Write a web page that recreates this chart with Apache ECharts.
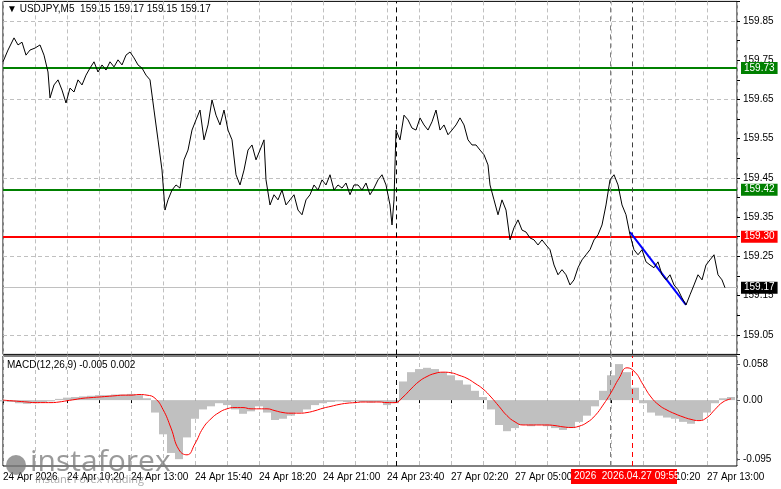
<!DOCTYPE html><html><head><meta charset="utf-8">
<script src="https://cdn.jsdelivr.net/npm/echarts@6/dist/echarts.min.js"></script>
<style>html,body{margin:0;padding:0;background:#fff}#c{width:781px;height:489px}</style></head><body><div id="c"></div>
<script>
const title = '\u25BC USDJPY,M5  159.15 159.17 159.15 159.17';
const macdTitle = 'MACD(12,26,9) -0.005 0.002';
const timeLabels = ['24 Apr 2026','24 Apr 10:20','24 Apr 13:00','24 Apr 15:40','24 Apr 18:20','24 Apr 21:00','24 Apr 23:40','27 Apr 02:20','27 Apr 05:00','27 Apr 07:40','27 Apr 10:20','27 Apr 13:00'];
const price = [[3,159.746],[8,159.776],[14,159.807],[18,159.789],[22,159.796],[26,159.763],[30,159.776],[35,159.781],[40,159.789],[44,159.763],[48,159.720],[50,159.654],[54,159.687],[58,159.700],[62,159.674],[66,159.641],[70,159.679],[74,159.669],[78,159.700],[82,159.687],[86,159.712],[90,159.730],[94,159.746],[98,159.720],[102,159.738],[106,159.725],[110,159.746],[114,159.733],[118,159.751],[122,159.738],[126,159.763],[130,159.771],[134,159.756],[138,159.738],[142,159.730],[146,159.712],[150,159.700],[154,159.623],[158,159.547],[162,159.470],[165,159.368],[168,159.394],[172,159.419],[176,159.432],[180,159.424],[184,159.496],[188,159.521],[192,159.572],[196,159.598],[200,159.623],[204,159.547],[208,159.585],[212,159.649],[216,159.610],[220,159.585],[224,159.623],[228,159.572],[232,159.547],[236,159.458],[240,159.432],[244,159.470],[248,159.521],[252,159.534],[256,159.496],[260,159.521],[264,159.547],[266,159.445],[270,159.381],[274,159.407],[278,159.394],[282,159.419],[286,159.381],[290,159.394],[294,159.407],[298,159.368],[302,159.356],[306,159.394],[310,159.407],[314,159.432],[318,159.419],[322,159.445],[326,159.432],[330,159.458],[334,159.419],[338,159.432],[342,159.424],[346,159.437],[350,159.407],[354,159.432],[358,159.432],[362,159.419],[366,159.437],[370,159.407],[374,159.424],[378,159.445],[382,159.458],[386,159.432],[390,159.381],[392,159.330],[394,159.394],[396,159.572],[400,159.547],[404,159.610],[408,159.598],[412,159.577],[416,159.572],[420,159.603],[424,159.585],[428,159.572],[432,159.593],[436,159.623],[440,159.572],[444,159.585],[448,159.560],[452,159.572],[456,159.585],[460,159.603],[464,159.585],[468,159.547],[472,159.534],[476,159.534],[480,159.521],[484,159.509],[488,159.483],[490,159.432],[494,159.394],[498,159.356],[502,159.394],[506,159.368],[510,159.292],[514,159.323],[518,159.343],[522,159.317],[526,159.312],[530,159.297],[534,159.292],[538,159.279],[542,159.292],[546,159.279],[550,159.267],[554,159.228],[558,159.203],[562,159.216],[566,159.203],[570,159.177],[574,159.190],[578,159.221],[582,159.241],[586,159.254],[590,159.267],[594,159.292],[598,159.305],[602,159.330],[606,159.381],[610,159.445],[614,159.458],[618,159.432],[622,159.381],[626,159.356],[630,159.305],[634,159.267],[638,159.254],[642,159.267],[646,159.236],[650,159.228],[654,159.221],[658,159.236],[662,159.203],[666,159.190],[670,159.203],[674,159.177],[678,159.165],[682,159.144],[686,159.126],[690,159.152],[694,159.177],[698,159.203],[702,159.190],[706,159.228],[710,159.241],[714,159.254],[718,159.203],[722,159.190],[725,159.170]];
const macdHist = [-2,-3,-5,-6,-5,-4,-2,2,4,5,6,7,8,8,9,9,10,8,3,-20,-55,-85,-95,-60,-30,-15,-10,-5,-8,-15,-22,-18,-10,-20,-32,-30,-25,-20,-15,-8,-5,-3,-2,-3,-2,-3,-4,-3,-8,-5,30,45,50,52,50,45,40,32,25,15,5,-15,-40,-50,-45,-40,-42,-40,-42,-45,-48,-45,-35,-25,-10,15,40,58,45,20,-5,-20,-25,-28,-30,-35,-38,-32,-20,-5,3,5];
const macdSignal = [0,-1,-2,-3,-4,-4,-4,-3,-1,1,3,4,5,6,7,8,8,9,8,3,-15,-45,-80,-88,-70,-45,-30,-20,-14,-12,-12,-14,-14,-14,-17,-20,-21,-21,-20,-17,-13,-10,-7,-5,-4,-3,-3,-3,-4,-4,5,18,30,38,43,45,44,40,35,27,18,5,-10,-25,-35,-40,-40,-40,-40,-41,-43,-44,-42,-36,-25,-8,12,35,52,45,25,5,-8,-16,-22,-27,-31,-33,-28,-15,-3,2];
const levels = {green1:159.73, green2:159.42, red:159.30, last:159.17};

const FONT = 'Liberation Sans';
const mx = i => 3 + 8*i;
const histData = macdHist.map((v,i)=>[mx(i), v/1000]);
const sigData = macdSignal.map((v,i)=>[mx(i), v/1000]);
const chart = echarts.init(document.getElementById('c'));
const lbl = (bg,fg)=>({show:true,position:'end',formatter:p=>p.value.toFixed(2),backgroundColor:bg,color:fg,padding:[1,3],fontSize:10,fontFamily:FONT,distance:4});
const hline = (v,c,w,bg,fg)=>({yAxis:v,lineStyle:{color:c,width:w,type:'solid'},label:lbl(bg,fg)});
const vdash = (x,c)=>({xAxis:x,lineStyle:{color:c,width:1,type:[5,4]},label:{show:false}});
chart.setOption({
  animation:false,
  textStyle:{fontFamily:FONT},
  grid:[{left:3,right:44,top:1.4,height:353,show:true,borderColor:'#000',borderWidth:1},
        {left:3,right:44,top:356,height:110,show:true,borderColor:'#000',borderWidth:1}],
  xAxis:[
    {type:'value',gridIndex:0,min:3,max:737,interval:32,axisLabel:{show:false},axisTick:{show:false},axisLine:{show:false},splitLine:{show:true,lineStyle:{color:'#c0c0c0',type:[4,3]}}},
    {type:'value',gridIndex:1,min:3,max:737,interval:32,axisLine:{show:false},axisTick:{show:true,length:3,lineStyle:{color:'#000'}},splitLine:{show:true,lineStyle:{color:'#c0c0c0',type:[4,3]}},
     axisLabel:{show:true,fontSize:10,fontFamily:FONT,color:'#000',align:'left',margin:6,showMaxLabel:false,hideOverlap:false,formatter:v=>{const k=Math.round((v-3)/32);return (k%2===0 && k/2<timeLabels.length && k/2!==9)?timeLabels[k/2]:'';}}}
  ],
  yAxis:[
    {type:'value',gridIndex:0,position:'right',min:159.0,max:159.9,interval:0.05,axisLine:{show:false},axisTick:{show:true,length:3,lineStyle:{color:'#000'}},
     splitLine:{show:true,lineStyle:{color:['rgba(0,0,0,0)','#c0c0c0','rgba(0,0,0,0)','rgba(0,0,0,0)'],type:[4,3]}},
     axisLabel:{fontSize:10,fontFamily:FONT,color:'#000',margin:6,formatter:v=>{const r=Math.round(v*100);return r%10===5?v.toFixed(2):'';}}},
    {type:'value',gridIndex:1,position:'right',min:-0.106,max:0.071,axisLine:{show:false},splitLine:{show:false},
     axisTick:{show:true,length:3,customValues:[0.058,0,-0.095]},
     axisLabel:{fontSize:10,fontFamily:FONT,color:'#000',margin:6,customValues:[0.058,0,-0.095],formatter:v=>v===0?'0.00':v.toFixed(3)}}
  ],
  series:[
    {type:'line',xAxisIndex:0,yAxisIndex:0,data:price,showSymbol:false,lineStyle:{color:'#000',width:1},z:5,
     markLine:{symbol:'none',silent:true,animation:false,data:[
       hline(levels.green1,'#008000',2,'#008000','#fff'),
       hline(levels.green2,'#008000',2,'#008000','#fff'),
       hline(levels.red,'#ff0000',2,'#ff0000','#fff'),
       hline(levels.last,'#c0c0c0',1,'#000','#fff'),
       vdash(396,'#000'), vdash(610,'#808080'), vdash(632,'#404040'),
       [{coord:[630,159.312],lineStyle:{color:'#0000ff',width:2,type:'solid'},label:{show:false}},{coord:[686,159.126]}]
     ]}},
    {type:'bar',xAxisIndex:1,yAxisIndex:1,data:histData,barWidth:8,barGap:'-100%',itemStyle:{color:'#c0c0c0'},
     markLine:{symbol:'none',silent:true,animation:false,data:[vdash(396,'#000'),vdash(610,'#808080'),vdash(632,'#ff0000')]}},
    {type:'line',xAxisIndex:1,yAxisIndex:1,data:sigData,showSymbol:false,smooth:true,lineStyle:{color:'#ff0000',width:1},z:5}
  ],
  graphic:[
    {type:'text',left:7,top:4,z:100,style:{text:title,fontSize:10,fill:'#000',fontFamily:FONT}},
    {type:'text',left:7,top:360,z:100,style:{text:macdTitle,fontSize:10,fill:'#000',fontFamily:FONT}},
    {type:'rect',z:100,shape:{x:571,y:469,width:106,height:15},style:{fill:'#ff0000'}},
    {type:'text',left:574,top:471,z:101,style:{text:'2026  2026.04.27 09:55',fontSize:10,fill:'#fff',fontFamily:FONT}},
    {type:'text',left:30,top:447,z:100,style:{text:'instaforex',fontSize:30,fill:'rgba(120,120,120,0.75)',fontFamily:'Open Sans'}},
    {type:'text',left:35,top:474,z:100,style:{text:'Instant Forex Trading',fontSize:11,fill:'rgba(140,140,140,0.75)',fontFamily:'Open Sans'}},
    {type:'circle',z:100,shape:{cx:16,cy:465,r:10},style:{fill:'rgba(120,120,120,0.75)'}}
  ]
});
</script></body></html>
